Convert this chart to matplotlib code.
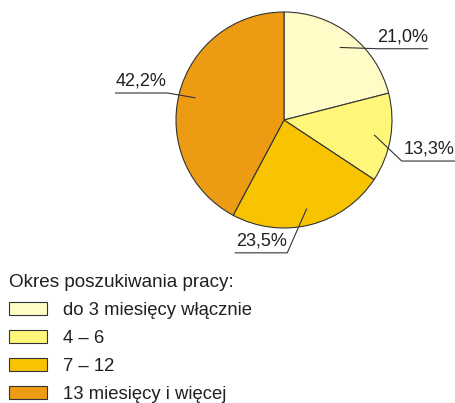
import matplotlib
matplotlib.use("Agg")
import matplotlib.pyplot as plt  # noqa: E402
import numpy as np  # noqa: E402

# dane
categories = ["do 3 miesięcy włącznie", "4 – 6", "7 – 12", "13 miesięcy i więcej"]
shares = [21.0, 13.3, 23.5, 42.2]
labels = ["21,0%", "13,3%", "23,5%", "42,2%"]
colors = ["#FFFCC8", "#FFF77A", "#F8C300", "#EE9B14"]

plt.rcParams["font.family"] = ["Liberation Sans", "DejaVu Sans"]

W, H = 456, 403
fig = plt.figure(figsize=(W / 100, H / 100), dpi=100)

# pie: center (284, 120) px, radius 108 px
cx, cy, r = 284, 120, 108
ax = fig.add_axes([(cx - r) / W, (H - cy - r) / H, 2 * r / W, 2 * r / H])
wedges, _ = ax.pie(shares, colors=colors, startangle=90, counterclock=False,
                   wedgeprops=dict(edgecolor="#333333", linewidth=0.8))
ax.set_xlim(-1, 1)
ax.set_ylim(-1, 1)
ax.set_aspect("equal")
ax.axis("off")

# leader lines: (elbow x, elbow y, end x) in units of radius
elbows = [(0.86, 0.66, 1.33), (1.09, -0.38, 1.60), (0.03, -1.23, -0.45), (-1.08, 0.25, -1.56)]
for w, lab, (ex, ey, hx) in zip(wedges, labels, elbows):
    ang = np.deg2rad((w.theta1 + w.theta2) / 2)
    sx, sy = 0.85 * np.cos(ang), 0.85 * np.sin(ang)
    ax.plot([sx, ex, hx], [sy, ey, ey], color="#333333", lw=0.8, clip_on=False)
    ax.text((ex + hx) / 2, ey + 0.03, lab, ha="center", va="bottom", fontsize=13,
            color="#231F20", clip_on=False)

leg = fig.legend(wedges, categories, title="Okres poszukiwania pracy:",
                 loc="upper left", bbox_to_anchor=(9 / W, 1 - 274 / H),
                 frameon=False, fontsize=13.3, title_fontsize=13.6, alignment="left",
                 borderpad=0, borderaxespad=0, handlelength=2.05, handleheight=0.7,
                 handletextpad=0.9, labelspacing=0.6)
for t in leg.get_texts():
    t.set_color("#231F20")
leg.get_title().set_color("#231F20")

fig.savefig("out.png", dpi=100)
